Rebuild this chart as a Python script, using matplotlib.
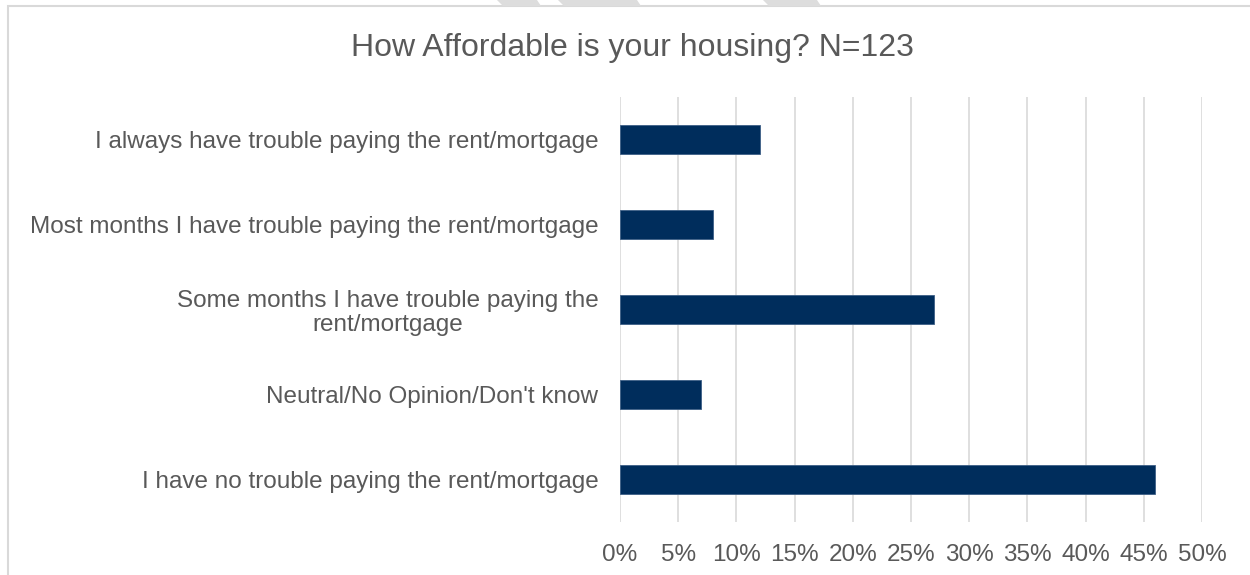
import matplotlib as mpl
import matplotlib.pyplot as plt
from matplotlib.patches import Polygon, Rectangle
from matplotlib.ticker import FuncFormatter

# Survey answers, top to bottom as listed
answers = [
    "I always have trouble paying the rent/mortgage",
    "Most months I have trouble paying the rent/mortgage",
    "Some months I have trouble paying the\nrent/mortgage",
    "Neutral/No Opinion/Don't know",
    "I have no trouble paying the rent/mortgage",
]
shares = [12, 8, 27, 7, 46]  # percent of respondents
x_ticks = [0, 5, 10, 15, 20, 25, 30, 35, 40, 45, 50]

text_grey = "#595959"
navy = "#002D5C"

plt.rcParams["font.family"] = ["Liberation Sans", "DejaVu Sans"]

fig = plt.figure(figsize=(12.5, 5.75), dpi=100)
ax = fig.add_axes([0.496, 0.0922, 0.4656, 0.7391])

pos = list(range(len(answers)))
ax.barh(pos, shares, height=0.35, color=navy, edgecolor="#3d5f86", linewidth=0.6, zorder=3)

ax.set_ylim(len(answers) - 0.5, -0.5)
ax.set_xlim(0, 50)
ax.set_xticks(x_ticks)
ax.xaxis.set_major_formatter(FuncFormatter(lambda v, _: f"{v:.0f}%"))
ax.set_yticks(pos)
ax.set_yticklabels(answers, multialignment="center", linespacing=1.1)

ax.grid(axis="x", color="#d9d9d9", linewidth=1.2, zorder=0)
for s in ax.spines.values():
    s.set_visible(False)
ax.tick_params(axis="both", length=0, colors=text_grey, labelsize=17.5)
ax.tick_params(axis="x", pad=16)
ax.tick_params(axis="y", pad=15.5)

fig.text(0.506, 0.916, "How Affordable is your housing? N=123", ha="center", va="center",
         fontsize=23, color=text_grey)

# chart frame
fig.patches.append(Rectangle((0.0064, -0.01), 1.2, 0.999, transform=fig.transFigure,
                             fill=False, edgecolor="#d9d9d9", linewidth=1.5))

# faint watermark strokes along the top edge (pixel spans at the top)
for x0, x1 in [(497, 537), (558, 637), (763, 817)]:
    pts = [(x0 / 1250, 1.0), (x1 / 1250, 1.0),
           ((x1 + 4) / 1250, 1 - 6 / 575), ((x0 + 6) / 1250, 1 - 6 / 575)]
    fig.patches.append(Polygon(pts, closed=True, transform=fig.transFigure,
                               facecolor="#dddddd", edgecolor="none"))

fig.savefig("out.png")
